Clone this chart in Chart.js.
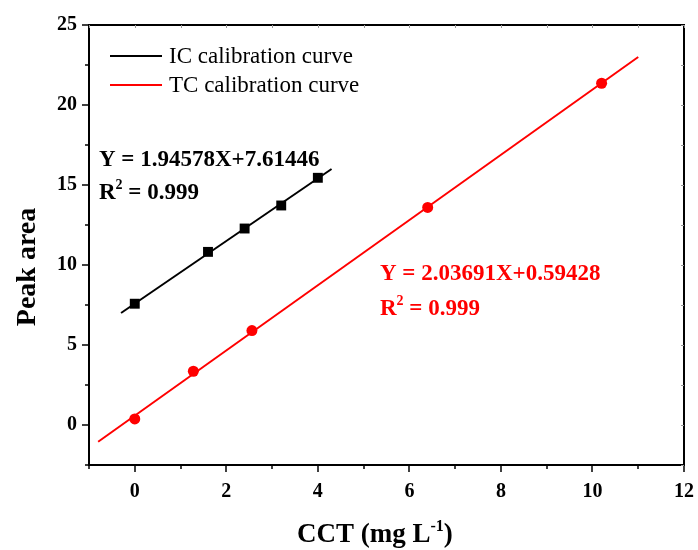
<!DOCTYPE html>
<html>
<head>
<meta charset="utf-8">
<script src="https://cdn.jsdelivr.net/npm/chart.js@4/dist/chart.umd.min.js"></script>
<style>
  html, body { margin: 0; padding: 0; background: #fff; }
  #wrap { width: 698px; height: 550px; }
</style>
</head>
<body>
<div id="wrap"><canvas id="c" width="698" height="550"></canvas></div>
<script>
'use strict'

// measured points (CCT mg/L vs peak area)
const icX = [0, 1.6, 2.4, 3.2, 4.0];
const icY = [7.58, 10.82, 12.28, 13.72, 15.45];
const tcX = [0, 1.28, 2.56, 6.4, 10.2];
const tcY = [0.38, 3.36, 5.9, 13.6, 21.36];

// fitted line ends
const icFitX = [-0.3, 4.3];
const icFitY = [7.0, 16.0];
const tcFitX = [-0.8, 11.0];
const tcFitY = [-1.05, 23.0];

const xTicks = [0, 2, 4, 6, 8, 10, 12];
const xMinor = [-1, 1, 3, 5, 7, 9, 11];
const yTicks = [0, 5, 10, 15, 20, 25];
const yMinor = [-2.5, 2.5, 7.5, 12.5, 17.5, 22.5];

const legendLabels = ['IC calibration curve', 'TC calibration curve'];
const icEq = 'Y = 1.94578X+7.61446';
const tcEq = 'Y = 2.03691X+0.59428';
const r2Val = ' = 0.999';

const SERIF = '"Liberation Serif", "Times New Roman", serif';
const RED = '#ff0000';

const pts = (xs, ys) => xs.map((x, i) => ({ x: x, y: ys[i] }));

// draws text with superscript pieces, returns end x
function supText(ctx, parts, x, y, size) {
  let cx = x;
  parts.forEach(p => {
    const s = p.sup ? Math.round(size * 0.6) : size;
    ctx.font = 'bold ' + s + 'px ' + SERIF;
    ctx.fillText(p.t, cx, p.sup ? y - size * 0.42 : y);
    cx += ctx.measureText(p.t).width;
  });
  return cx;
}

const decor = {
  id: 'decor',
  afterDraw(chart) {
    const ctx = chart.ctx;
    const a = chart.chartArea;
    const xs = chart.scales.x, ys = chart.scales.y;
    ctx.save();

    // frame
    ctx.strokeStyle = '#000';
    ctx.lineWidth = 2;
    ctx.strokeRect(a.left, a.top, a.right - a.left, a.bottom - a.top);

    // outward ticks bottom / left
    ctx.lineWidth = 1.5;
    ctx.beginPath();
    xTicks.forEach(v => { const px = Math.round(xs.getPixelForValue(v)); ctx.moveTo(px, a.bottom); ctx.lineTo(px, a.bottom + 7); });
    xMinor.forEach(v => { const px = Math.round(xs.getPixelForValue(v)); ctx.moveTo(px, a.bottom); ctx.lineTo(px, a.bottom + 4); });
    yTicks.forEach(v => { const py = Math.round(ys.getPixelForValue(v)); ctx.moveTo(a.left, py); ctx.lineTo(a.left - 7, py); });
    yMinor.forEach(v => { const py = Math.round(ys.getPixelForValue(v)); ctx.moveTo(a.left, py); ctx.lineTo(a.left - 4, py); });
    ctx.stroke();

    // faint inward ticks top / right
    ctx.strokeStyle = '#999';
    ctx.lineWidth = 1;
    ctx.beginPath();
    xTicks.concat(xMinor).forEach(v => { const px = Math.round(xs.getPixelForValue(v)) + 0.5; ctx.moveTo(px, a.top); ctx.lineTo(px, a.top + 3); });
    yTicks.concat(yMinor).forEach(v => { const py = Math.round(ys.getPixelForValue(v)) + 0.5; ctx.moveTo(a.right, py); ctx.lineTo(a.right - 3, py); });
    ctx.stroke();

    // legend
    ctx.lineWidth = 2;
    ctx.font = '23px ' + SERIF;
    ctx.textBaseline = 'alphabetic';
    [['#000', 56], [RED, 85]].forEach((s, i) => {
      ctx.strokeStyle = s[0];
      ctx.beginPath(); ctx.moveTo(110, s[1]); ctx.lineTo(162, s[1]); ctx.stroke();
      ctx.fillStyle = '#000';
      ctx.fillText(legendLabels[i], 169, s[1] + 7);
    });

    // equations
    ctx.fillStyle = '#000';
    supText(ctx, [{ t: icEq }], 99, 166, 23);
    supText(ctx, [{ t: 'R' }, { t: '2', sup: true }, { t: r2Val }], 99, 199, 23);
    ctx.fillStyle = RED;
    supText(ctx, [{ t: tcEq }], 380, 280, 23);
    supText(ctx, [{ t: 'R' }, { t: '2', sup: true }, { t: r2Val }], 380, 315, 23);

    // axis titles
    ctx.fillStyle = '#000';
    supText(ctx, [{ t: 'CCT (mg L' }, { t: '-1', sup: true }, { t: ')' }], 297, 542, 27);
    ctx.translate(35, 267);
    ctx.rotate(-Math.PI / 2);
    ctx.font = 'bold 28px ' + SERIF;
    ctx.textAlign = 'center';
    ctx.fillText('Peak area', 0, 0);
    ctx.restore();
  }
};

const tickFont = { family: SERIF, size: 20, weight: 'bold' };

new Chart(document.getElementById('c'), {
  type: 'scatter',
  data: {
    datasets: [
      { data: pts(icX, icY), pointStyle: 'rect', pointRadius: 7, pointBackgroundColor: '#000', pointBorderColor: '#000', pointBorderWidth: 0, showLine: false },
      { data: pts(tcX, tcY), pointStyle: 'circle', pointRadius: 5.5, pointBackgroundColor: RED, pointBorderColor: RED, pointBorderWidth: 0, showLine: false },
      { data: pts(icFitX, icFitY), showLine: true, borderColor: '#000', borderWidth: 2, pointRadius: 0 },
      { data: pts(tcFitX, tcFitY), showLine: true, borderColor: RED, borderWidth: 2, pointRadius: 0 }
    ]
  },
  options: {
    responsive: false,
    animation: false,
    layout: { padding: { top: 25, right: 14, left: 0, bottom: 0 } },
    plugins: { legend: { display: false }, tooltip: { enabled: false } },
    scales: {
      x: {
        type: 'linear', min: -1, max: 12,
        afterBuildTicks: s => { s.ticks = xTicks.map(v => ({ value: v })); },
        afterFit: s => { s.height = 85; s.paddingLeft = 0; s.paddingRight = 0; },
        grid: { display: false, drawTicks: false },
        border: { display: false },
        ticks: { font: tickFont, color: '#000', padding: 15, maxRotation: 0 }
      },
      y: {
        type: 'linear', min: -2.5, max: 25,
        afterBuildTicks: s => { s.ticks = yTicks.map(v => ({ value: v })); },
        afterFit: s => { s.width = 89; s.paddingTop = 0; s.paddingBottom = 0; },
        grid: { display: false, drawTicks: false },
        border: { display: false },
        ticks: { font: tickFont, color: '#000', padding: 12 }
      }
    }
  },
  plugins: [decor]
});
</script>
</body>
</html>
